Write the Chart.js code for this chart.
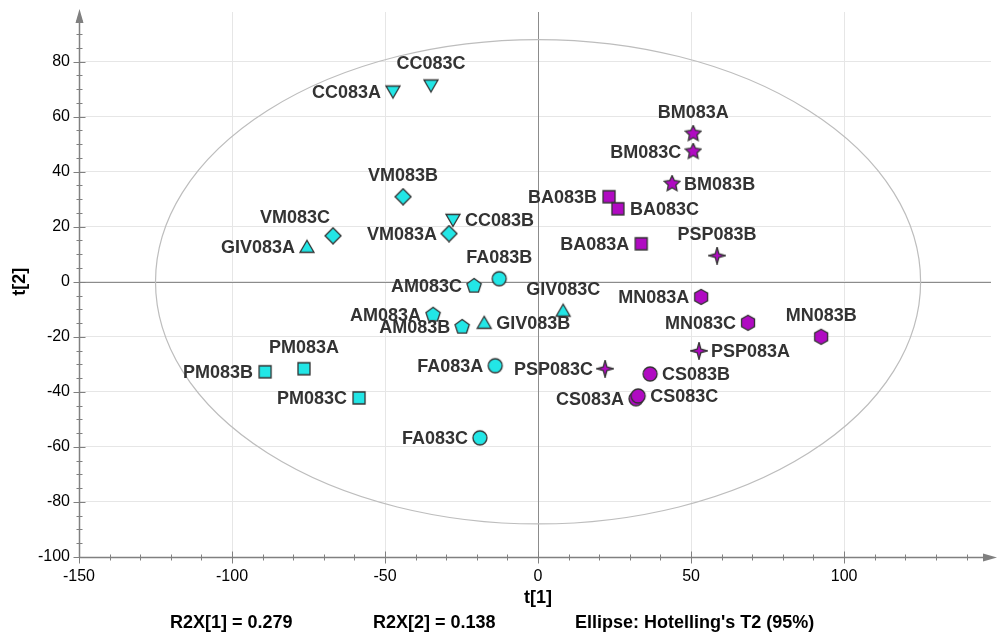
<!DOCTYPE html>
<html lang="en">
<head>
<meta charset="utf-8">
<title>Score plot t[1] / t[2]</title>
<script src="https://cdn.jsdelivr.net/npm/chart.js@4.4.0/dist/chart.umd.min.js"></script>
<style>
  html, body { margin: 0; padding: 0; background: #fff; }
  #wrap { width: 1004px; height: 643px; position: relative; }
</style>
</head>
<body>
<div id="wrap"><canvas id="score"></canvas></div>
<script>
// sample names, scores and group per sample
const names = ["CC083A","CC083C","CC083B","VM083B","VM083A","VM083C","GIV083A","GIV083B","GIV083C",
  "AM083C","AM083A","AM083B","FA083B","FA083A","FA083C","PM083A","PM083B","PM083C",
  "BM083A","BM083C","BM083B","BA083B","BA083C","BA083A","PSP083B","PSP083A","PSP083C",
  "MN083A","MN083C","MN083B","CS083B","CS083A","CS083C"];
const t1 = [-47.4,-35.0,-27.8,-44.1,-29.1,-67.0,-75.5,-17.6,8.2,
  -20.9,-34.3,-24.8,-12.7,-14.0,-19.0,-76.5,-89.2,-58.5,
  50.7,50.7,43.8,23.2,26.1,33.7,58.5,52.6,21.9,
  53.3,68.6,92.5,36.6,32.0,32.7];
const t2 = [69.1,71.3,22.5,30.9,17.5,16.7,12.7,-14.9,-10.5,
  -1.5,-12.0,-16.4,1.1,-30.5,-56.7,-31.6,-32.7,-42.2,
  53.8,47.3,35.6,30.9,26.5,13.8,9.5,-25.1,-31.6,
  -5.5,-14.9,-20.0,-33.5,-42.5,-41.5];
const groups = ["CC","CC","CC","VM","VM","VM","GIV","GIV","GIV",
  "AM","AM","AM","FA","FA","FA","PM","PM","PM",
  "BM","BM","BM","BA","BA","BA","PSP","PSP","PSP",
  "MN","MN","MN","CS","CS","CS"];
// where each label sits relative to its marker
const labelSide = ["l","t","r","t","l","tl","l","r","t",
  "l","l","l","t","l","l","t","l","l",
  "t","l","r","l","r","l","t","r","l",
  "l","l","t","r","l","r"];

const xTicks = [-150, -100, -50, 0, 50, 100];
const yTicks = [-100, -80, -60, -40, -20, 0, 20, 40, 60, 80];

const groupOrder = ["CC","VM","GIV","AM","FA","PM","BM","BA","PSP","MN","CS"];
const groupShape = {CC:"triDown",VM:"diamond",GIV:"triUp",AM:"pentagon",FA:"circle",PM:"square",
  BM:"star5",BA:"square",PSP:"star4",MN:"hexagon",CS:"circle"};
const CYAN = "#22e6e6", MAGENTA = "#b00ac2";
const groupColor = {CC:CYAN,VM:CYAN,GIV:CYAN,AM:CYAN,FA:CYAN,PM:CYAN,
  BM:MAGENTA,BA:MAGENTA,PSP:MAGENTA,MN:MAGENTA,CS:MAGENTA};

const r2x1 = 0.279, r2x2 = 0.138;
const ellipseRadius = [125, 88]; // Hotelling's T2 (95%) in t[1], t[2] units

const FONT = "'Liberation Sans', Arial, sans-serif";

// marker images
function marker(shape, fill) {
  const S = 18, c = document.createElement("canvas");
  c.width = S; c.height = S;
  const g = c.getContext("2d");
  const cx = S / 2, cy = S / 2;
  g.beginPath();
  const poly = (n, r, rot, inner) => {
    const k = inner ? n * 2 : n;
    for (let i = 0; i < k; i++) {
      const a = rot + i * 2 * Math.PI / k;
      const rr = inner && i % 2 ? inner : r;
      const x = cx + rr * Math.cos(a), y = cy + rr * Math.sin(a);
      i ? g.lineTo(x, y) : g.moveTo(x, y);
    }
    g.closePath();
  };
  if (shape === "circle") g.arc(cx, cy, 7, 0, 2 * Math.PI);
  else if (shape === "square") g.rect(cx - 6, cy - 6, 12, 12);
  else if (shape === "diamond") poly(4, 8, -Math.PI / 2);
  else if (shape === "triUp") { g.moveTo(cx, cy - 6.5); g.lineTo(cx + 7, cy + 5.5); g.lineTo(cx - 7, cy + 5.5); g.closePath(); }
  else if (shape === "triDown") { g.moveTo(cx - 7, cy - 5.5); g.lineTo(cx + 7, cy - 5.5); g.lineTo(cx, cy + 6.5); g.closePath(); }
  else if (shape === "pentagon") poly(5, 7.5, -Math.PI / 2);
  else if (shape === "hexagon") poly(6, 7.5, -Math.PI / 2);
  else if (shape === "star5") poly(5, 8.3, -Math.PI / 2, 4);
  else if (shape === "star4") poly(4, 8.5, -Math.PI / 2, 2.6);
  g.fillStyle = fill; g.fill();
  g.lineWidth = 1.3; g.strokeStyle = "#333"; g.stroke();
  return c;
}

const datasets = groupOrder.map(gr => {
  const idx = names.map((n, i) => i).filter(i => groups[i] === gr);
  return {
    label: gr,
    data: idx.map(i => ({x: t1[i], y: t2[i], name: names[i], side: labelSide[i]})),
    pointStyle: marker(groupShape[gr], groupColor[gr]),
    pointRadius: 9,
    pointHoverRadius: 9
  };
});

// ellipse, zero lines, axes with arrows, minor ticks, labels
const decor = {
  id: "decor",
  beforeDatasetsDraw(chart) {
    const {ctx, chartArea: a, scales: {x, y}} = chart;
    ctx.save();
    ctx.strokeStyle = "#8c8c8c"; ctx.lineWidth = 1;
    const x0 = Math.round(x.getPixelForValue(0)) + 0.5, y0 = Math.round(y.getPixelForValue(0)) + 0.5;
    ctx.beginPath(); ctx.moveTo(x0, a.top); ctx.lineTo(x0, a.bottom);
    ctx.moveTo(a.left, y0); ctx.lineTo(a.right, y0); ctx.stroke();
    ctx.strokeStyle = "#bdbdbd"; ctx.lineWidth = 1.2;
    ctx.beginPath();
    ctx.ellipse(x.getPixelForValue(0), y.getPixelForValue(0),
      x.getPixelForValue(ellipseRadius[0]) - x.getPixelForValue(0),
      y.getPixelForValue(0) - y.getPixelForValue(ellipseRadius[1]), 0, 0, 2 * Math.PI);
    ctx.stroke();
    ctx.restore();
  },
  afterDraw(chart) {
    const {ctx, chartArea: a, scales: {x, y}} = chart;
    ctx.save();
    ctx.strokeStyle = "#808080"; ctx.fillStyle = "#808080"; ctx.lineWidth = 1.5;
    const L = Math.round(a.left) + 0.5, B = Math.round(a.bottom) + 0.5;
    ctx.beginPath(); ctx.moveTo(L, B); ctx.lineTo(L, a.top + 4);
    ctx.moveTo(L, B); ctx.lineTo(a.right - 4, B); ctx.stroke();
    ctx.beginPath(); ctx.moveTo(L, a.top - 3); ctx.lineTo(L - 4, a.top + 11); ctx.lineTo(L + 4, a.top + 11); ctx.closePath(); ctx.fill();
    ctx.beginPath(); ctx.moveTo(a.right + 6, B); ctx.lineTo(a.right - 8, B - 4); ctx.lineTo(a.right - 8, B + 4); ctx.closePath(); ctx.fill();
    ctx.lineWidth = 1;
    ctx.beginPath();
    for (let v = -100; v <= y.max; v += 5) {
      const p = Math.round(y.getPixelForValue(v)) + 0.5, len = v % 20 === 0 ? 6 : 3;
      ctx.moveTo(L - len, p); ctx.lineTo(L + len, p);
    }
    for (let v = -150; v <= x.max; v += 10) {
      const p = Math.round(x.getPixelForValue(v)) + 0.5, len = v % 50 === 0 ? 6 : 3;
      ctx.moveTo(p, B - len); ctx.lineTo(p, B + len);
    }
    ctx.stroke();
    // point labels
    ctx.font = "bold 18px " + FONT;
    ctx.fillStyle = "#333";
    chart.data.datasets.forEach((ds, di) => {
      chart.getDatasetMeta(di).data.forEach((pt, i) => {
        const d = ds.data[i];
        let tx = pt.x, ty = pt.y;
        if (d.side === "l") { ctx.textAlign = "right"; ctx.textBaseline = "middle"; tx -= 12; }
        else if (d.side === "r") { ctx.textAlign = "left"; ctx.textBaseline = "middle"; tx += 12; }
        else if (d.side === "t") { ctx.textAlign = "center"; ctx.textBaseline = "middle"; ty -= 22; }
        else { ctx.textAlign = "right"; ctx.textBaseline = "middle"; tx -= 3; ty -= 19; }
        ctx.fillText(d.name, tx, ty + 1);
      });
    });
    // axis titles and summary line
    ctx.fillStyle = "#000";
    ctx.font = "bold 18px " + FONT;
    ctx.textAlign = "center"; ctx.textBaseline = "middle";
    ctx.fillText("t[1]", x.getPixelForValue(0), 598);
    ctx.save(); ctx.translate(20, y.getPixelForValue(0)); ctx.rotate(-Math.PI / 2);
    ctx.fillText("t[2]", 0, 0); ctx.restore();
    ctx.font = "bold 18px " + FONT;
    ctx.textAlign = "left";
    ctx.fillText("R2X[1] = " + r2x1.toFixed(3), 170, 623);
    ctx.fillText("R2X[2] = " + r2x2.toFixed(3), 373, 623);
    ctx.fillText("Ellipse: Hotelling's T2 (95%)", 575, 623);
    ctx.restore();
  }
};

const tickFont = {family: FONT, size: 16};
new Chart(document.getElementById("score"), {
  type: "scatter",
  data: {datasets},
  plugins: [decor],
  options: {
    responsive: true,
    maintainAspectRatio: false,
    animation: false,
    layout: {padding: {top: 12, right: 13, left: 0, bottom: 0}},
    plugins: {legend: {display: false}, tooltip: {enabled: false}},
    scales: {
      x: {
        min: -150, max: 148,
        border: {display: false},
        grid: {color: "#e6e6e6", drawTicks: false},
        ticks: {color: "#000", font: tickFont, padding: 10, maxRotation: 0, autoSkip: false},
        afterBuildTicks(s) { s.ticks = xTicks.map(v => ({value: v})); },
        afterFit(s) { s.height = 86; }
      },
      y: {
        min: -100, max: 98,
        border: {display: false},
        grid: {color: "#e6e6e6", drawTicks: false},
        ticks: {color: "#000", font: tickFont, padding: 9, autoSkip: false},
        afterBuildTicks(s) { s.ticks = yTicks.map(v => ({value: v})); },
        afterFit(s) { s.width = 79; s.paddingTop = 0; s.paddingBottom = 0; }
      }
    }
  }
});
</script>
</body>
</html>
